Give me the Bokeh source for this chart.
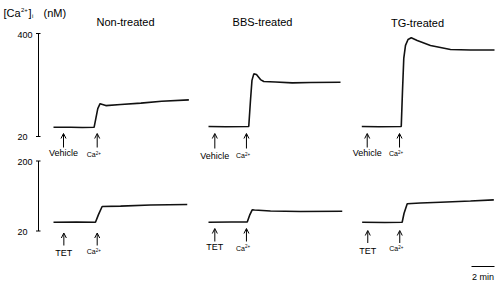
from bokeh.plotting import figure
from bokeh.models import Range1d, ColumnDataSource, Arrow, OpenHead
from bokeh.embed import file_html
from bokeh.resources import INLINE
from bokeh.core.properties import value

# ---------------- data (time in min, [Ca2+]i in nM) ----------------
panel_titles = ["Non-treated", "BBS-treated", "TG-treated"]
top_pre_labels = ["Vehicle", "Vehicle", "Vehicle"]
bottom_pre_labels = ["TET", "TET", "TET"]
ca_label_main = "Ca"
ca_label_sup = "2+"

top_axis_ticks = [20, 400]
bottom_axis_ticks = [20, 200]

non_top_t = [0, 1.5, 2.5, 3.53, 3.68, 3.85, 4.05, 4.55, 5.85, 7.6, 9.4, 11.77]
non_top_v = [54, 54, 53, 54, 86, 123, 141, 134, 138, 143, 150, 155]

bbs_top_t = [0, 1.5, 3.5, 3.65, 3.78, 3.94, 4.17, 4.52, 4.81, 5.83, 7.28, 8.87, 11.48]
bbs_top_v = [57, 56, 57, 153, 227, 251, 249, 230, 223, 221, 218, 219, 220]

tg_top_t = [0, 1.5, 3.43, 3.54, 3.65, 3.8, 4.02, 4.3, 4.82, 5.97, 7.71, 9.45, 11.54]
tg_top_v = [57, 56, 57, 190, 308, 356, 378, 384, 374, 356, 341, 339, 339]

non_bot_t = [0, 2.0, 3.65, 3.91, 4.23, 5.83, 8.43, 11.63]
non_bot_v = [42.6, 43, 42.6, 62, 83, 84, 87, 88]

bbs_bot_t = [0, 2.0, 3.37, 3.57, 3.8, 4.0, 5.39, 8.0, 11.63]
bbs_bot_v = [42.6, 43, 43, 60, 74.5, 74, 71.4, 70.1, 70.9]

tg_bot_t = [0.03, 2.0, 3.51, 3.67, 3.95, 5.1, 6.84, 9.45, 11.48]
tg_bot_v = [42.6, 42, 42.6, 65, 90, 92, 94, 97, 100]

# addition times (min): [pre-treatment, Ca2+]
top_arrow_t = [[0.87, 3.8], [0.55, 3.3], [0.47, 3.28]]
bot_arrow_t = [[0.9, 3.8], [0.55, 3.3], [0.52, 3.3]]

scale_bar_min = 2
scale_bar_start_t = 9.54

# ---------------- layout ----------------
W, H = 500, 285
PX_PER_MIN = 11.5
panel_x0 = [53, 208, 361.3]
TOP_PX = {20: 136, 400: 33}
BOT_PX = {20: 230.5, 200: 160.5}
FONT = "Liberation Sans"
INK = "black"


def y_range_for(v_lo, v_hi, px_lo, px_hi):
    k = (px_lo - px_hi) / (v_hi - v_lo)
    end = v_hi + px_hi / k
    return Range1d(start=end - H / k, end=end)


p = figure(width=W, height=H, x_range=Range1d(0, W), y_range=Range1d(H, 0),
           toolbar_location=None, output_backend="svg", min_border=0,
           x_axis_location=None, y_axis_location=None)
p.grid.visible = False
p.outline_line_color = None
p.background_fill_color = "white"
p.border_fill_color = "white"

p.extra_y_ranges = {
    "top": y_range_for(20, 400, TOP_PX[20], TOP_PX[400]),
    "bot": y_range_for(20, 200, BOT_PX[20], BOT_PX[200]),
}
p.extra_x_ranges = {
    f"p{i}": Range1d(start=-x0 / PX_PER_MIN, end=(W - x0) / PX_PER_MIN)
    for i, x0 in enumerate(panel_x0)
}

top_traces = [(non_top_t, non_top_v), (bbs_top_t, bbs_top_v), (tg_top_t, tg_top_v)]
bot_traces = [(non_bot_t, non_bot_v), (bbs_bot_t, bbs_bot_v), (tg_bot_t, tg_bot_v)]

for i in range(3):
    xr = f"p{i}"
    t, v = top_traces[i]
    p.line(t, v, x_range_name=xr, y_range_name="top", line_color="#111111", line_width=1.6)
    t, v = bot_traces[i]
    p.line(t, v, x_range_name=xr, y_range_name="bot", line_color="#111111", line_width=1.6)

# titles
title_x = [125, 262, 417]
title_y = [21, 21, 22]
p.text(x=title_x, y=title_y, text=panel_titles, text_font=value(FONT),
       text_font_size="11px", text_align="center", text_baseline="middle", text_color=INK)

# y-axis label
lbl_parts = [("[Ca", 3, 12, "11px"), ("2+", 20.5, 9, "6px"), ("]", 28, 12, "11px"),
             ("i", 31.5, 15, "6px"), ("(nM)", 43, 12, "11px")]
for txt, x, y, fs in lbl_parts:
    p.text(x=[x], y=[y], text=[txt], text_font=value(FONT), text_font_size=fs,
           text_align="left", text_baseline="middle", text_color=INK)

# scale axes
axis_x = 38
for rng, ticks, ypx in [("top", top_axis_ticks, TOP_PX), ("bot", bottom_axis_ticks, BOT_PX)]:
    p.segment(x0=[axis_x], y0=[ticks[0]], x1=[axis_x], y1=[ticks[1]],
              y_range_name=rng, line_color=INK, line_width=1)
    p.segment(x0=[axis_x - 2.5] * 2, y0=ticks, x1=[axis_x + 2] * 2, y1=ticks,
              y_range_name=rng, line_color=INK, line_width=1)
    p.text(x=[17, 17], y=[ypx[ticks[0]] + 0.5, ypx[ticks[1]] + 1],
           text=[str(ticks[0]), str(ticks[1])], text_font=value(FONT), text_font_size="9px",
           text_align="left", text_baseline="middle", text_color=INK)

# arrows and labels
top_arrow_y = [(147, 133), (148, 133), (147, 133)]
bot_arrow_y = [(245, 232.5), (241, 228), (242.5, 230)]
top_lbl_y = [(152.3, 154), (155.7, 155), (152.7, 153.3)]
bot_lbl_y = [(252.7, 251), (246.7, 247.7), (250, 248.3)]
for i in range(3):
    xr = f"p{i}"
    for arrows_t, ay, ly, pre in [(top_arrow_t[i], top_arrow_y[i], top_lbl_y[i], top_pre_labels[i]),
                                  (bot_arrow_t[i], bot_arrow_y[i], bot_lbl_y[i], bottom_pre_labels[i])]:
        src = ColumnDataSource(dict(x=arrows_t, y0=[ay[0]] * 2, y1=[ay[1]] * 2))
        p.add_layout(Arrow(end=OpenHead(size=5, line_width=1, line_color=INK),
                           x_start="x", y_start="y0", x_end="x", y_end="y1", source=src,
                           x_range_name=xr, line_width=1, line_color=INK))
        p.text(x=[arrows_t[0]], y=[ly[0]], text=[pre], x_range_name=xr,
               text_font=value(FONT), text_font_size="9px", text_align="center",
               text_baseline="middle", text_color=INK)
        p.text(x=[arrows_t[1]], y=[ly[1]], text=[ca_label_main], x_range_name=xr,
               x_offset=-10.5, text_font=value(FONT), text_font_size="7px",
               text_align="left", text_baseline="middle", text_color=INK)
        p.text(x=[arrows_t[1]], y=[ly[1]], text=[ca_label_sup], x_range_name=xr,
               x_offset=-1.5, y_offset=-2, text_font=value(FONT), text_font_size="4.5px",
               text_align="left", text_baseline="middle", text_color=INK)

# time scale bar
p.segment(x0=[scale_bar_start_t], y0=[266], x1=[scale_bar_start_t + scale_bar_min], y1=[266],
          x_range_name="p2", line_color=INK, line_width=1)
p.text(x=[scale_bar_start_t + scale_bar_min / 2], y=[276], text=[f"{scale_bar_min} min"],
       x_range_name="p2", text_font=value(FONT), text_font_size="9px", text_align="center",
       text_baseline="middle", text_color=INK)

open("out.html", "w").write(file_html(p, INLINE))
